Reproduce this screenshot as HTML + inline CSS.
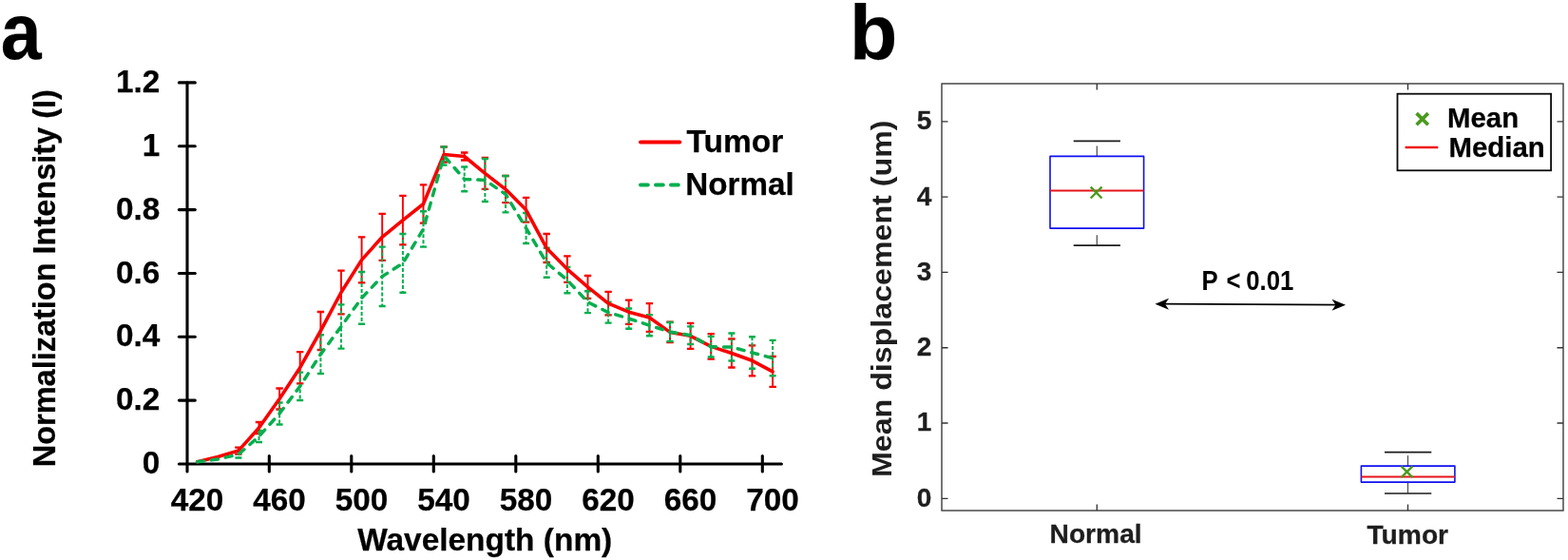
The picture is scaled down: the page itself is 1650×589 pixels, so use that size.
<!DOCTYPE html>
<html lang="en">
<head>
<meta charset="utf-8">
<title>Figure</title>
<style>
html,body{margin:0;padding:0;background:#fff;}
body{width:1650px;height:589px;overflow:hidden;}
svg{display:block;}
text{font-family:"Liberation Sans",Arial,Helvetica,sans-serif;font-weight:bold;}
.k{fill:#000;stroke:#000;stroke-width:0.25px;stroke-linejoin:round;}
.p{fill:#000;}
.g{fill:#1e1e1e;}
.gt{fill:#1e1e1e;stroke:#1e1e1e;stroke-width:0.3px;stroke-linejoin:round;}
</style>
</head>
<body>
<svg width="1650" height="589" viewBox="0 0 1650 589">
<rect x="0" y="0" width="1650" height="589" fill="#ffffff"/>

<g id="panel-a">
<text class="k" transform="translate(0.8,62.2) scale(0.93,1)" font-size="82.8">a</text>
<g stroke="#000" stroke-width="3.1" fill="none" stroke-linecap="round">
<path d="M197 87 V496"/>
<path d="M188.4 488 H822.4"/>
<path d="M188.4 421.1 H205.3"/>
<path d="M188.4 354.3 H205.3"/>
<path d="M188.4 287.5 H205.3"/>
<path d="M188.4 220.6 H205.3"/>
<path d="M188.4 153.8 H205.3"/>
<path d="M188.4 86.9 H205.3"/>
<path d="M283.3 479.5 V496"/>
<path d="M369.8 479.5 V496"/>
<path d="M456.3 479.5 V496"/>
<path d="M542.8 479.5 V496"/>
<path d="M629.3 479.5 V496"/>
<path d="M715.8 479.5 V496"/>
<path d="M802.3 479.5 V496"/>
</g>
<text class="k" x="168.3" y="498.0" font-size="33.3" text-anchor="end">0</text>
<text class="k" x="168.3" y="431.2" font-size="33.3" text-anchor="end">0.2</text>
<text class="k" x="168.3" y="364.4" font-size="33.3" text-anchor="end">0.4</text>
<text class="k" x="168.3" y="297.6" font-size="33.3" text-anchor="end">0.6</text>
<text class="k" x="168.3" y="230.8" font-size="33.3" text-anchor="end">0.8</text>
<text class="k" x="168.3" y="164.0" font-size="33.3" text-anchor="end">1</text>
<text class="k" x="168.3" y="97.2" font-size="33.3" text-anchor="end">1.2</text>
<text class="k" x="207.5" y="537.2" font-size="33.3" text-anchor="middle">420</text>
<text class="k" x="294.0" y="537.2" font-size="33.3" text-anchor="middle">460</text>
<text class="k" x="380.5" y="537.2" font-size="33.3" text-anchor="middle">500</text>
<text class="k" x="467.0" y="537.2" font-size="33.3" text-anchor="middle">540</text>
<text class="k" x="553.5" y="537.2" font-size="33.3" text-anchor="middle">580</text>
<text class="k" x="640.0" y="537.2" font-size="33.3" text-anchor="middle">620</text>
<text class="k" x="726.5" y="537.2" font-size="33.3" text-anchor="middle">660</text>
<text class="k" x="813.0" y="537.2" font-size="33.3" text-anchor="middle">700</text>
<text class="k" x="510.2" y="578.9" font-size="33.45" text-anchor="middle">Wavelength (nm)</text>
<text class="k" transform="translate(58.1,292.7) scale(1.04,1) rotate(-90)" font-size="32.5" text-anchor="middle">Normalization Intensity (I)</text>
<g stroke="#f80000" fill="none">
<path d="M250.9 470.6V477.6M272.5 444.0V456.0M294.1 408.5V430.5M315.7 370.1V403.3M337.4 328.0V368.0M359.0 284.6V330.4M380.6 249.4V297.4M402.2 224.8V273.8M423.9 205.8V257.4M445.5 194.3V234.7M467.1 154.5V170.5M488.7 160.5V168.5M510.4 165.8V198.8M532.0 185.0V213.2M553.6 207.9V233.7M575.2 246.0V276.0M596.9 269.4V296.8M618.5 290.0V313.8M640.1 306.9V331.3M661.7 315.6V340.8M683.4 319.2V348.8M705.0 338.6V360.2M726.6 339.8V366.8M748.2 351.1V377.7M769.9 356.5V386.5M791.5 363.3V395.3M813.1 375.0V406.8" stroke-width="1.9"/>
<path d="M247.2 470.6H254.6M247.2 477.6H254.6M268.8 444.0H276.2M268.8 456.0H276.2M290.4 408.5H297.8M290.4 430.5H297.8M312.0 370.1H319.4M312.0 403.3H319.4M333.7 328.0H341.1M333.7 368.0H341.1M355.3 284.6H362.7M355.3 330.4H362.7M376.9 249.4H384.3M376.9 297.4H384.3M398.5 224.8H405.9M398.5 273.8H405.9M420.2 205.8H427.6M420.2 257.4H427.6M441.8 194.3H449.2M441.8 234.7H449.2M463.4 154.5H470.8M463.4 170.5H470.8M485.0 160.5H492.4M485.0 168.5H492.4M506.7 165.8H514.1M506.7 198.8H514.1M528.3 185.0H535.7M528.3 213.2H535.7M549.9 207.9H557.3M549.9 233.7H557.3M571.5 246.0H578.9M571.5 276.0H578.9M593.2 269.4H600.6M593.2 296.8H600.6M614.8 290.0H622.2M614.8 313.8H622.2M636.4 306.9H643.8M636.4 331.3H643.8M658.0 315.6H665.4M658.0 340.8H665.4M679.7 319.2H687.1M679.7 348.8H687.1M701.3 338.6H708.7M701.3 360.2H708.7M722.9 339.8H730.3M722.9 366.8H730.3M744.5 351.1H751.9M744.5 377.7H751.9M766.2 356.5H773.6M766.2 386.5H773.6M787.8 363.3H795.2M787.8 395.3H795.2M809.4 375.0H816.8M809.4 406.8H816.8" stroke-width="2.3"/>
</g>
<g stroke="#06ae4e" fill="none">
<path d="M250.9 474.5V481.5M272.5 453.0V465.0M294.1 423.5V446.5M315.7 391.6V421.0M337.4 352.2V393.0M359.0 320.4V366.6M380.6 286.0V340.8M402.2 259.6V322.0M423.9 246.0V307.8M445.5 222.2V259.6M467.1 154.4V173.6M488.7 175.5V201.3M510.4 167.0V212.0M532.0 185.0V223.4M553.6 224.0V256.0M575.2 260.8V291.8M596.9 280.9V308.3M618.5 306.3V329.1M640.1 317.6V339.6M661.7 324.5V345.7M683.4 331.2V353.2M705.0 339.0V359.0M726.6 343.4V362.0M748.2 353.9V375.5M769.9 350.5V379.5M791.5 354.3V387.7M813.1 357.9V395.3" stroke-width="2.0" stroke-dasharray="4 2"/>
<path d="M247.4 474.5H254.4M247.4 481.5H254.4M269.0 453.0H276.0M269.0 465.0H276.0M290.6 423.5H297.6M290.6 446.5H297.6M312.2 391.6H319.2M312.2 421.0H319.2M333.9 352.2H340.9M333.9 393.0H340.9M355.5 320.4H362.5M355.5 366.6H362.5M377.1 286.0H384.1M377.1 340.8H384.1M398.7 259.6H405.7M398.7 322.0H405.7M420.4 246.0H427.4M420.4 307.8H427.4M442.0 222.2H449.0M442.0 259.6H449.0M463.6 154.4H470.6M463.6 173.6H470.6M485.2 175.5H492.2M485.2 201.3H492.2M506.9 167.0H513.9M506.9 212.0H513.9M528.5 185.0H535.5M528.5 223.4H535.5M550.1 224.0H557.1M550.1 256.0H557.1M571.7 260.8H578.7M571.7 291.8H578.7M593.4 280.9H600.4M593.4 308.3H600.4M615.0 306.3H622.0M615.0 329.1H622.0M636.6 317.6H643.6M636.6 339.6H643.6M658.2 324.5H665.2M658.2 345.7H665.2M679.9 331.2H686.9M679.9 353.2H686.9M701.5 339.0H708.5M701.5 359.0H708.5M723.1 343.4H730.1M723.1 362.0H730.1M744.7 353.9H751.7M744.7 375.5H751.7M766.4 350.5H773.4M766.4 379.5H773.4M788.0 354.3H795.0M788.0 387.7H795.0M809.6 357.9H816.6M809.6 395.3H816.6" stroke-width="2.4"/>
</g>
<path d="M207.6 485.8 L229.2 480.5 L250.9 474.1 L272.5 450.0 L294.1 419.5 L315.7 386.7 L337.4 348.0 L359.0 307.5 L380.6 273.4 L402.2 249.3 L423.9 231.6 L445.5 214.5 L467.1 162.5 L488.7 164.5 L510.4 182.3 L532.0 199.1 L553.6 220.8 L575.2 261.0 L596.9 283.1 L618.5 301.9 L640.1 319.1 L661.7 328.2 L683.4 334.0 L705.0 349.4 L726.6 353.3 L748.2 364.4 L769.9 371.5 L791.5 379.3 L813.1 390.9" fill="none" stroke="#f80000" stroke-width="3.6" stroke-linejoin="round" stroke-linecap="round"/>
<path d="M207.6 485.8 L229.2 483.0 L250.9 478.0 L272.5 459.0 L294.1 435.0 L315.7 406.3 L337.4 372.6 L359.0 343.5 L380.6 313.4 L402.2 290.8 L423.9 276.9 L445.5 240.9 L467.1 164.0 L488.7 188.4 L510.4 189.5 L532.0 204.2 L553.6 240.0 L575.2 276.3 L596.9 294.6 L618.5 317.7 L640.1 328.6 L661.7 335.1 L683.4 342.2 L705.0 349.0 L726.6 352.7 L748.2 364.7 L769.9 365.0 L791.5 371.0 L813.1 376.6" fill="none" stroke="#06ae4e" stroke-width="3.5" stroke-linejoin="round" stroke-linecap="round" stroke-dasharray="7 8"/>
<path d="M674.1 149.5 H715.2" stroke="#f80000" stroke-width="4.2" stroke-linecap="round" fill="none"/>
<path d="M674 194.6 H716" stroke="#06ae4e" stroke-width="4" stroke-linecap="round" stroke-dasharray="7.8 8.2" fill="none"/>
<text class="k" x="722.5" y="160" font-size="33.5">Tumor</text>
<text class="k" x="721.3" y="204.8" font-size="33.2">Normal</text>
</g>
<g id="panel-b">
<text class="k" x="894" y="62.2" font-size="82.4">b</text>
<rect x="991" y="88" width="654" height="449" fill="none" stroke="#333" stroke-width="1.35"/>
<g stroke="#333" stroke-width="1.35" fill="none">
<path d="M991 524.3h6.5M1645 524.3h-6.5"/>
<path d="M991 445.0h6.5M1645 445.0h-6.5"/>
<path d="M991 365.7h6.5M1645 365.7h-6.5"/>
<path d="M991 286.4h6.5M1645 286.4h-6.5"/>
<path d="M991 207.1h6.5M1645 207.1h-6.5"/>
<path d="M991 127.8h6.5M1645 127.8h-6.5"/>
<path d="M1154.3 88v6.5M1154.3 537v-6.5"/>
<path d="M1481.5 88v6.5M1481.5 537v-6.5"/>
</g>
<text class="gt" x="980.3" y="532.7" font-size="28" text-anchor="end">0</text>
<text class="gt" x="980.3" y="453.4" font-size="28" text-anchor="end">1</text>
<text class="gt" x="980.3" y="374.1" font-size="28" text-anchor="end">2</text>
<text class="gt" x="980.3" y="294.8" font-size="28" text-anchor="end">3</text>
<text class="gt" x="980.3" y="215.5" font-size="28" text-anchor="end">4</text>
<text class="gt" x="980.3" y="136.2" font-size="28" text-anchor="end">5</text>
<text class="gt" x="1153.1" y="571.3" font-size="28.2" text-anchor="middle">Normal</text>
<text class="gt" x="1481.3" y="571.5" font-size="28.2" text-anchor="middle">Tumor</text>
<text class="g" transform="translate(937.9,314.3) scale(0.93,1) rotate(-90)" font-size="32.2" text-anchor="middle">Mean displacement (um)</text>
<g fill="none">
<path d="M1154.3 164.4V148.3" stroke="#555" stroke-width="1.3" stroke-dasharray="11 12"/>
<path d="M1154.3 258.2V240.1" stroke="#555" stroke-width="1.3" stroke-dasharray="11 12"/>
<path d="M1129.7 148.3H1178.9M1129.7 258.2H1178.9" stroke="#1c1c1c" stroke-width="1.7"/>
<rect x="1105" y="164.4" width="98.6" height="75.7" stroke="#1010f0" stroke-width="1.6" stroke-linejoin="round"/>
<path d="M1105 200.6H1203.6" stroke="#e6141a" stroke-width="2"/>
<path d="M1147.6999999999998 196.7L1159.5 208.5M1147.6999999999998 208.5L1159.5 196.7" stroke="#4a9a1e" stroke-width="2.4"/>
</g>
<g fill="none">
<path d="M1481.5 490.1V475.7" stroke="#555" stroke-width="1.3" stroke-dasharray="11 12"/>
<path d="M1481.5 519V507.1" stroke="#555" stroke-width="1.3" stroke-dasharray="11 12"/>
<path d="M1457 475.7H1506.3M1457 519H1506.3" stroke="#1c1c1c" stroke-width="1.7"/>
<rect x="1432.4" y="490.1" width="98.5" height="17.0" stroke="#1010f0" stroke-width="1.6" stroke-linejoin="round"/>
<path d="M1432.4 501.5H1530.9" stroke="#e6141a" stroke-width="2"/>
<path d="M1474.6 490.3L1486.4 502.09999999999997M1474.6 502.09999999999997L1486.4 490.3" stroke="#4a9a1e" stroke-width="2.4"/>
</g>
<path d="M1222 319.7L1410 320.6" stroke="#000" stroke-width="1.7" fill="none"/>
<path d="M1215.5 319.7l14.5 -6 -4 6 4 6z" fill="#000"/>
<path d="M1416 320.7l-14.5 -6 4 6 -4 6z" fill="#000"/>
<text class="p" transform="translate(0,305.2) scale(0.9,1)" font-size="28.6"><tspan x="1404.9">P</tspan> <tspan x="1433.8">&lt;</tspan> <tspan x="1456.9">0.01</tspan></text>
<rect x="1470.5" y="98.7" width="161.6" height="80.6" fill="#fff" stroke="#0a0a0a" stroke-width="1.8"/>
<path d="M1490.6000000000001 119.10000000000001L1502.8 131.3M1490.6000000000001 131.3L1502.8 119.10000000000001" stroke="#4a9a1e" stroke-width="3.7" fill="none"/>
<path d="M1478.6 155H1513.3" stroke="#f01414" stroke-width="2.4" fill="none"/>
<text class="k" x="1523" y="133.7" font-size="29.4">Mean</text>
<text class="k" x="1524.5" y="165.4" font-size="29.4">Median</text>
</g>
</svg>
</body>
</html>
